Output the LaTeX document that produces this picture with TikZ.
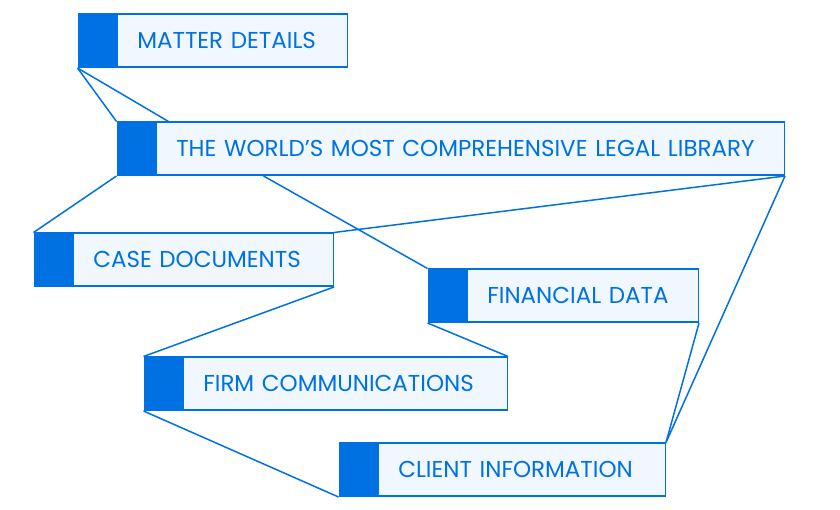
\documentclass[tikz,border=0pt]{standalone}
\usepackage{fontspec}
\setmainfont{Poppins}
\usepackage{xcolor}
\usepackage{tikz}
\usetikzlibrary{positioning, backgrounds, calc}
\definecolor{brand}{HTML}{0071E3}
\definecolor{brandlight}{HTML}{F0F7FF}

\begin{document}
\begin{tikzpicture}[
    x=1pt, y=1pt,
    node distance=0pt,
    tab/.style={rectangle, draw=brand, fill=brand, line width=1.5pt, minimum width=37.5pt, minimum height=53pt, inner sep=0pt, anchor=north west},
    label/.style={rectangle, draw=brand, fill=brandlight, line width=1.5pt, minimum height=53pt, inner xsep=20pt, inner ysep=0pt, align=left, text=brand, font=\fontsize{23}{25}\selectfont},
    link/.style={draw=brand, line width=1.5pt},
]
\useasboundingbox (0,0) rectangle (840,510);

% Matter details
\node[tab] (matterTab) at (77.5,496.5) {};
\node[label, text width=190pt, right=of matterTab] (matter) {MATTER DETAILS};

% Legal library
\node[tab] (libTab) at (116.5,388.5) {};
\node[label, text width=588pt, right=of libTab] (library) {THE WORLD’S MOST COMPREHENSIVE LEGAL LIBRARY};

% Case documents
\node[tab] (caseTab) at (33.5,277.5) {};
\node[label, text width=220pt, right=of caseTab] (case) {CASE DOCUMENTS};

% Financial data
\node[tab] (finTab) at (427.5,241.5) {};
\node[label, text width=191pt, right=of finTab] (fin) {FINANCIAL DATA};

% Firm communications
\node[tab] (firmTab) at (143.5,153.5) {};
\node[label, text width=284pt, right=of firmTab] (firm) {FIRM COMMUNICATIONS};

% Client information
\node[tab] (clientTab) at (338.5,67.5) {};
\node[label, text width=247pt, right=of clientTab] (client) {CLIENT INFORMATION};

% Links
\coordinate (libTop) at ([xshift=13pt]library.north west);
\coordinate (libBottom) at ([xshift=108pt]library.south west);
\begin{scope}[on background layer]
\draw[link] (matterTab.south west) -- (libTab.north west);
\draw[link] (matterTab.south west) -- (libTop);
\draw[link] (libTab.south west) -- (caseTab.north west);
\draw[link] (libBottom) -- (finTab.north west);
\draw[link] (library.south east) -- (case.north east);
\draw[link] (library.south east) -- (client.north east);
\draw[link] (case.south east) -- (firmTab.north west);
\draw[link] (finTab.south west) -- (firm.north east);
\draw[link] (fin.south east) -- (client.north east);
\draw[link] (firmTab.south west) -- (clientTab.south west);
\end{scope}

\end{tikzpicture}
\end{document}
